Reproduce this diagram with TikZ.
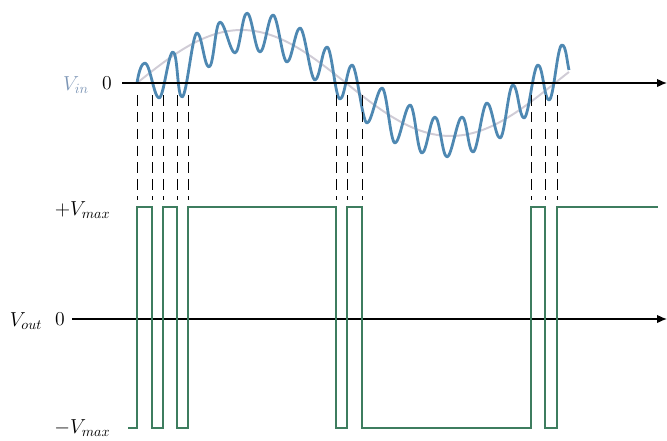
\documentclass[tikz,border=0pt]{standalone}
\usepackage{tikz}
\usetikzlibrary{arrows.meta}
\definecolor{wavein}{RGB}{78,136,178}
\definecolor{waveslow}{RGB}{208,204,214}
\definecolor{waveout}{RGB}{62,125,95}
\definecolor{lblin}{RGB}{125,150,182}
\tikzset{
  axis/.style={->, line width=1pt},
  lbl/.style={font=\fontsize{14}{16}\selectfont, inner sep=1pt},
  vin/.style={wavein, line width=2pt, line join=round},
  vslow/.style={waveslow, line width=1.4pt},
  vout/.style={waveout, line width=1.2pt},
  cross/.style={dash pattern=on 7.5pt off 4.5pt, line width=0.65pt},
  hw/.style={out=0, in=180, distance=0.12cm}
}
\begin{document}
\begin{tikzpicture}[>={Latex[length=7pt,width=6pt]}, x=0.025cm, y=-0.025cm]
\useasboundingbox (0,0) rectangle (667,441);
% input axis and labels
\coordinate (in0) at (122,83);
\coordinate (inend) at (667,83);
\node[lbl, text=lblin] (vinlbl) at (76,85) {$V_{in}$};
\node[lbl] (vinzero) at (107,83) {0};
% output axis and labels
\coordinate (out0) at (72,319);
\coordinate (outend) at (667,319);
\node[lbl] (voutlbl) at (26,321) {$V_{out}$};
\node[lbl] (voutzero) at (60,319) {0};
\node[lbl, anchor=east] (vmaxp) at (112,210) {$+V_{max}$};
\node[lbl, anchor=east] (vmaxm) at (112,428) {$-V_{max}$};
% slow sine
\draw[vslow] plot[domain=137:569, samples=90] (\x, {83-53*sin((\x-137)/418*360)});
% input with ripple
\draw[vin] (137,83) .. controls (139,70) and (142,63) .. (145,63)
  foreach \x/\y in {159/98, 173/52, 182/97, 197/33, 209/67, 220/22, 235/53,
    247/13, 260/52, 273/15, 287/62, 300/28, 315/80, 327/47, 340/99, 352/65,
    367/123, 382/88, 395/143, 410/105, 422/153, 435/117, 447/157, 462/117,
    473/152, 487/103, 500/138, 513/85, 524/118, 538/65, 549/100, 562/45}
  { to[hw] (\x,\y) }
  .. controls (566,45) and (567,62) .. (569,70);
\draw[axis] (in0) -- (inend);
\draw[axis] (out0) -- (outend);
% crossings
\foreach \c [count=\i] in {137,152,163,177,188,336,347,362,531,545,557} {
  \coordinate (up\i) at (\c,95);
  \coordinate (dn\i) at (\c,200);
  \draw[cross] (up\i) -- (dn\i);
}
% comparator output
\draw[vout] (128,428) -| (137,207) -| (152,428) -| (163,207) -| (177,428)
  -| (188,207) -| (336,428) -| (347,207) -| (362,428) -| (531,207)
  -| (545,428) -| (557,207) -- (658,207);
\end{tikzpicture}
\end{document}
